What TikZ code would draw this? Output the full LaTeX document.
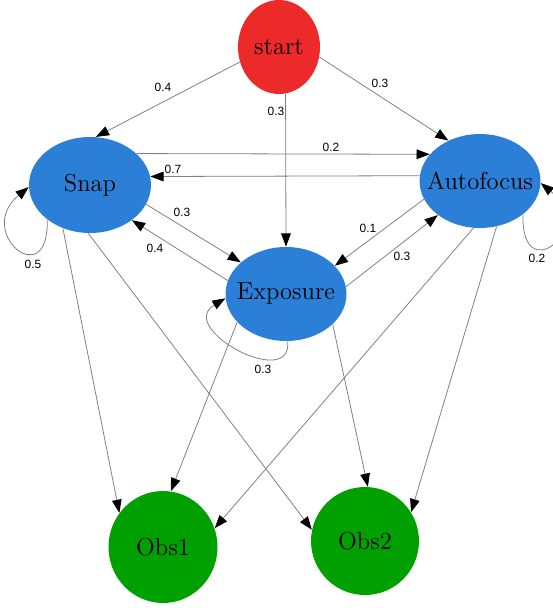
\documentclass[tikz,border=0pt]{standalone}
\usepackage{fontspec}
\newfontfamily\lblfont{Liberation Sans}
\usetikzlibrary{arrows.meta,shapes.geometric}

\definecolor{startred}{RGB}{236,42,42}
\definecolor{stateblue}{RGB}{43,127,214}
\definecolor{obsgreen}{RGB}{0,160,0}

\tikzset{
  state/.style={ellipse, inner sep=-8pt, font=\fontsize{14}{16}\selectfont},
  trans/.style={draw=gray, line width=0.45pt,
    -{Triangle[length=7.5pt,width=5.5pt,black]}},
  prob/.style={font=\lblfont\fontsize{6.8}{8}\selectfont, inner sep=1pt}
}

\begin{document}
\begin{tikzpicture}[x=0.02cm,y=-0.02cm]
  \useasboundingbox (0,0) rectangle (552,608);

  % states
  \node[state, fill=startred, minimum width=1.64cm, minimum height=1.88cm] (start) at (279,47) {start};
  \node[state, fill=stateblue, minimum width=2.44cm, minimum height=1.92cm] (snap) at (90,185) {Snap};
  \node[state, fill=stateblue, minimum width=2.42cm, minimum height=1.88cm] (af) at (480,181) {Autofocus};
  \node[state, fill=stateblue, minimum width=2.42cm, minimum height=1.88cm] (exp) at (286,294) {Exposure};
  \node[state, fill=obsgreen, minimum width=2.18cm, minimum height=2.24cm] (obs1) at (163,547) {Obs1};
  \node[state, fill=obsgreen, minimum width=2.16cm, minimum height=2.16cm] (obs2) at (365,541) {Obs2};

  % transitions
  \draw[trans] (start.201) -- (snap.83) node[prob] at (163,87) {0.4};
  \draw[trans] (start.-82) -- (exp.north) node[prob] at (276,111) {0.3};
  \draw[trans] (start.-14) -- (af.128) node[prob] at (380,83) {0.3};
  \draw[trans] (snap.34) -- (af.152) node[prob] at (331,147) {0.2};
  \draw[trans] (af.175) -- (snap.8) node[prob] at (173,169) {0.7};
  \draw[trans] (snap.-19) -- (exp.145) node[prob] at (182,212) {0.3};
  \draw[trans] (exp.167) -- (snap.-40) node[prob] at (155,248) {0.4};
  \draw[trans] (af.198) -- (exp.30) node[prob] at (368,228) {0.1};
  \draw[trans] (exp.7) -- (af.219) node[prob] at (402,256) {0.3};

  % self loops
  \draw[trans] (snap.219) .. controls +(2,75) and +(-55,45) .. (snap.182) node[prob] at (33,264) {0.5};
  \draw[trans] (af.-38) .. controls +(-2,75) and +(55,45) .. (af.-2) node[prob] at (537,258) {0.2};
  \draw[trans] (exp.-88) .. controls +(5,50) and +(-50,30) .. (exp.184) node[prob] at (263,369) {0.3};

  % emissions
  \draw[trans] (snap.238) -- (obs1.142);
  \draw[trans] (snap.268) -- (obs2.168);
  \draw[trans] (exp.210) -- (obs1.82);
  \draw[trans] (exp.-33) -- (obs2.87);
  \draw[trans] (af.262) -- (obs1.20);
  \draw[trans] (af.290) -- (obs2.32);
\end{tikzpicture}
\end{document}
